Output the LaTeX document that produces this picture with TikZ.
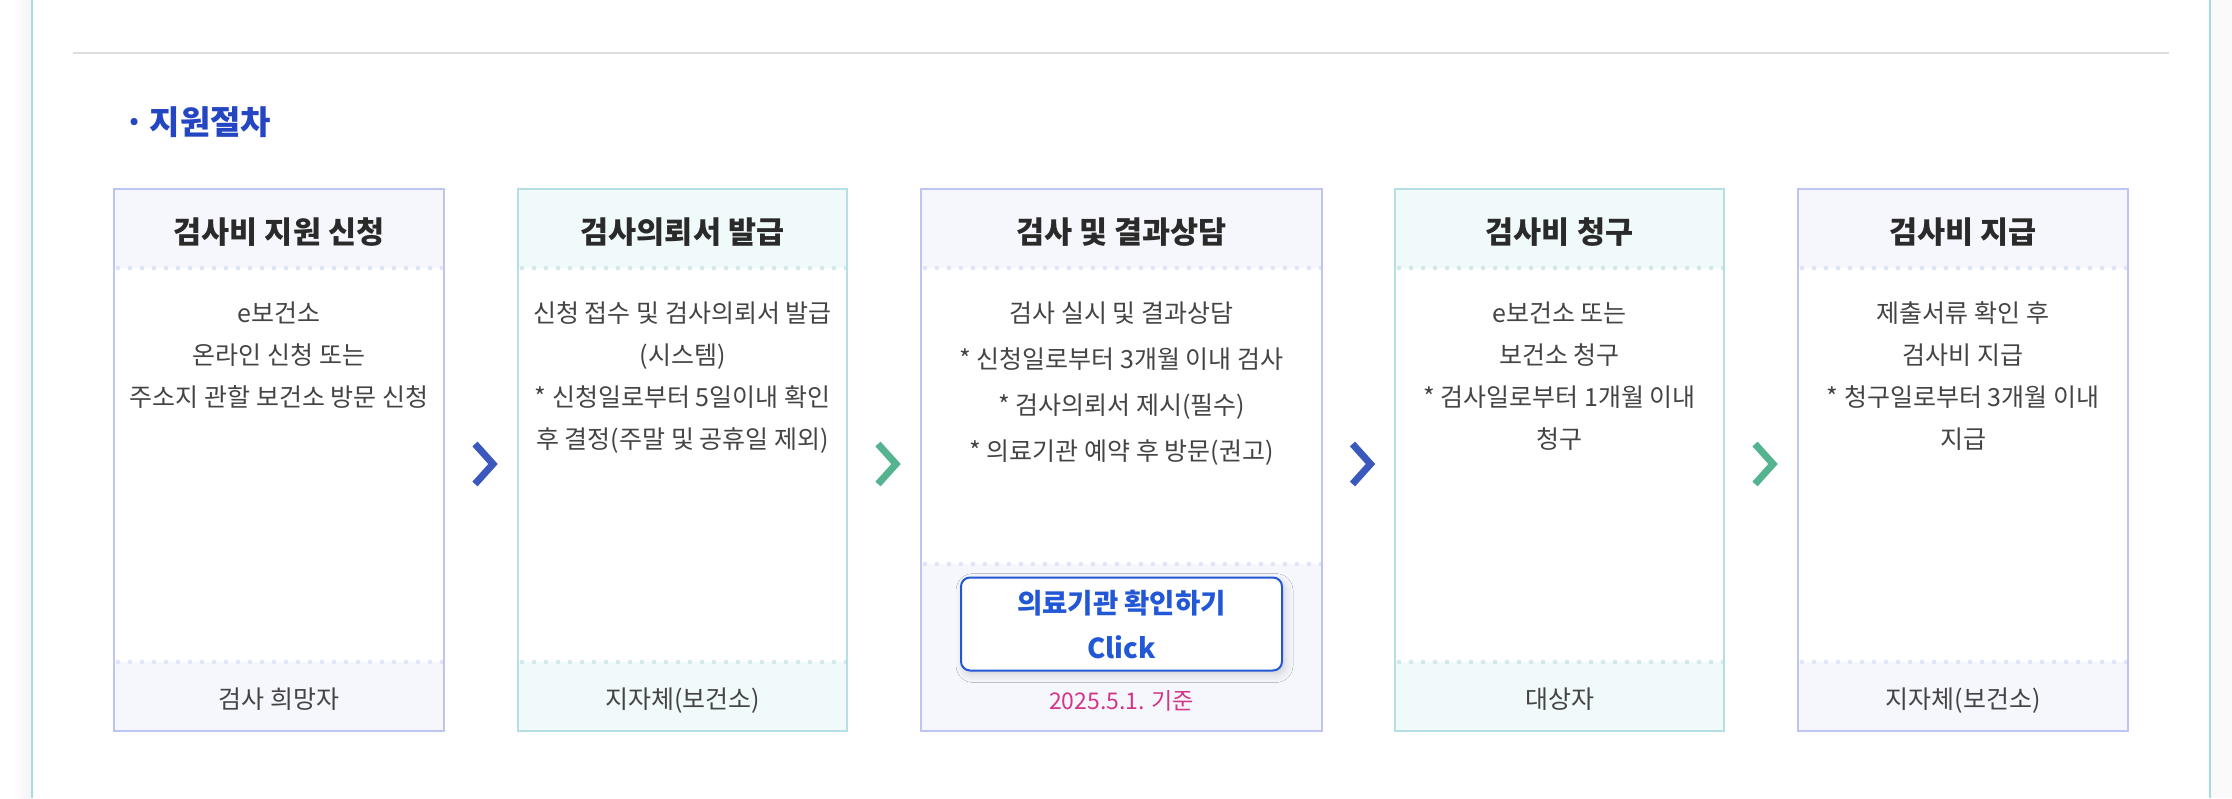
\documentclass[tikz,border=0pt]{standalone}
\usepackage{fontspec}
\setmainfont{Noto Sans CJK KR}
\usetikzlibrary{calc,shadows.blur}
\definecolor{lavborder}{HTML}{BEC5F1}
\definecolor{lavbg}{HTML}{F6F7FD}
\definecolor{lavdot}{HTML}{E0E4F7}
\definecolor{tealborder}{HTML}{B5DFE2}
\definecolor{tealbg}{HTML}{F1FAFA}
\definecolor{tealdot}{HTML}{D3E8E9}
\definecolor{chevblue}{HTML}{3A58BD}
\definecolor{chevgreen}{HTML}{55B48F}
\definecolor{titleblue}{HTML}{2446C2}
\definecolor{hdtxt}{HTML}{2A2A2A}
\definecolor{bdtxt}{HTML}{444444}
\definecolor{btnblue}{HTML}{2257D6}
\definecolor{datepink}{HTML}{D2358A}
\definecolor{frameline}{HTML}{A8DCE3}
\definecolor{sepgray}{HTML}{DDDDDD}
\tikzset{
  boxnode/.style={inner sep=0pt, outer sep=0pt, minimum height=542pt, fill=white, draw=none},
  dotrow/.style={line width=4.7pt, line cap=round, dash pattern=on 0pt off 12pt},
  hd/.style={anchor=base, inner sep=0pt, font=\fontsize{30.5}{36}\selectfont\bfseries, text=hdtxt},
  bd/.style={anchor=base, inner sep=0pt, font=\fontsize{25}{30}\selectfont, text=bdtxt},
  chev/.style={line width=7pt, line join=miter, line cap=butt},
  btn/.style={draw=btnblue, line width=2pt, fill=white, rounded corners=9pt, inner sep=0pt, outer sep=0pt,
     minimum width=321pt, minimum height=93pt,
     blur shadow={shadow xshift=3pt, shadow yshift=-4pt, shadow blur radius=8pt, shadow opacity=16}},
  btntxt/.style={anchor=base, inner sep=0pt, font=\fontsize{27.5}{32}\selectfont\bfseries, text=btnblue},
}
\begin{document}
\begin{tikzpicture}[x=1pt,y=-1pt]
\useasboundingbox (0,0) rectangle (2232,798);
\fill[white] (0,0) rectangle (2232,798);
% side shading and frame lines
\shade[left color=white, right color=black!4] (12,0) rectangle (31,798);
\fill[black!2] (2211,0) rectangle (2232,798);
\draw[frameline, line width=2pt] (32,0) -- (32,798);
\draw[frameline, line width=2pt] (2210,0) -- (2210,798);
\draw[sepgray, line width=2.5pt] (73,53) -- (2169,53);
% title
\node[anchor=base west, inner sep=0pt, font=\fontsize{33}{38}\selectfont\bfseries, text=titleblue] (title) at (124,134) {·\,지원절차};
% boxes
\foreach \n/\L/\R/\c/\F in {b1/114/444/lav/69, b2/518/847/teal/69, b3/921/1322/lav/167, b4/1395/1724/teal/69, b5/1798/2128/lav/69}{
  \node[boxnode, minimum width={(\R-\L)*1pt}] (\n) at ({(\L+\R)/2}, 460) {};
  \fill[\c bg] (\n.north west) rectangle ($(\n.north east)+(0,79)$);
  \fill[\c bg] ($(\n.south west)+(0,-\F)$) rectangle (\n.south east);
  \draw[dotrow, \c dot] ($(\n.north west)+(4,79)$) -- ($(\n.north east)+(-1,79)$);
  \draw[dotrow, \c dot] ($(\n.south west)+(4,-\F)$) -- ($(\n.south east)+(-1,-\F)$);
  \draw[\c border, line width=2pt] (\n.north west) rectangle (\n.south east);
}
% headers
\node[hd] (h1) at ($(b1.north)+(0,54)$) {검사비 지원 신청};
\node[hd] (h2) at ($(b2.north)+(0,54)$) {검사의뢰서 발급};
\node[hd] (h3) at ($(b3.north)+(0,54)$) {검사 및 결과상담};
\node[hd] (h4) at ($(b4.north)+(0,54)$) {검사비 청구};
\node[hd] (h5) at ($(b5.north)+(0,54)$) {검사비 지급};
% bodies
\foreach \t [count=\i] in {e보건소, 온라인 신청 또는, 주소지 관할 보건소 방문 신청}
  \node[bd] (t1l\i) at ($(b1.north)+(0,133+42*\i-42)$) {\t};
\foreach \t [count=\i] in {신청 접수 및 검사의뢰서 발급, (시스템), * 신청일로부터 5일이내 확인, 후 결정(주말 및 공휴일 제외)}
  \node[bd] (t2l\i) at ($(b2.north)+(0,133+42*\i-42)$) {\t};
\foreach \t [count=\i] in {검사 실시 및 결과상담, * 신청일로부터 3개월 이내 검사, * 검사의뢰서 제시(필수), * 의료기관 예약 후 방문(권고)}
  \node[bd] (t3l\i) at ($(b3.north)+(0,133+46*\i-46)$) {\t};
\foreach \t [count=\i] in {e보건소 또는, 보건소 청구, * 검사일로부터 1개월 이내, 청구}
  \node[bd] (t4l\i) at ($(b4.north)+(0,133+42*\i-42)$) {\t};
\foreach \t [count=\i] in {제출서류 확인 후, 검사비 지급, * 청구일로부터 3개월 이내, 지급}
  \node[bd] (t5l\i) at ($(b5.north)+(0,133+42*\i-42)$) {\t};
% footers
\node[bd] (f1) at ($(b1.south)+(0,-23)$) {검사 희망자};
\node[bd] (f2) at ($(b2.south)+(0,-23)$) {지자체(보건소)};
\node[bd] (f4) at ($(b4.south)+(0,-23)$) {대상자};
\node[bd] (f5) at ($(b5.south)+(0,-23)$) {지자체(보건소)};
% button
\node[btn] (btn) at ($(b3.south)+(0,-107)$) {};
\node[btntxt] (btn1) at ($(btn.center)+(0,-11)$) {의료기관 확인하기};
\node[btntxt] (btn2) at ($(btn.center)+(0,34)$) {Click};
\node[anchor=base, inner sep=0pt, font=\fontsize{23}{27}\selectfont, text=datepink] (date) at ($(b3.south)+(0,-22)$) {2025.5.1. 기준};
% chevrons between boxes
\coordinate (a1) at ($(b1.east)!0.5!(b2.west)+(3,4)$);
\coordinate (a2) at ($(b2.east)!0.5!(b3.west)+(3,4)$);
\coordinate (a3) at ($(b3.east)!0.5!(b4.west)+(3,4)$);
\coordinate (a4) at ($(b4.east)!0.5!(b5.west)+(3,4)$);
\foreach \a/\col in {a1/chevblue, a2/chevgreen, a3/chevblue, a4/chevgreen}
  \draw[chev, \col] ($(\a)+(-9,-20)$) -- ($(\a)+(9,0)$) -- ($(\a)+(-9,20)$);
\end{tikzpicture}
\end{document}
